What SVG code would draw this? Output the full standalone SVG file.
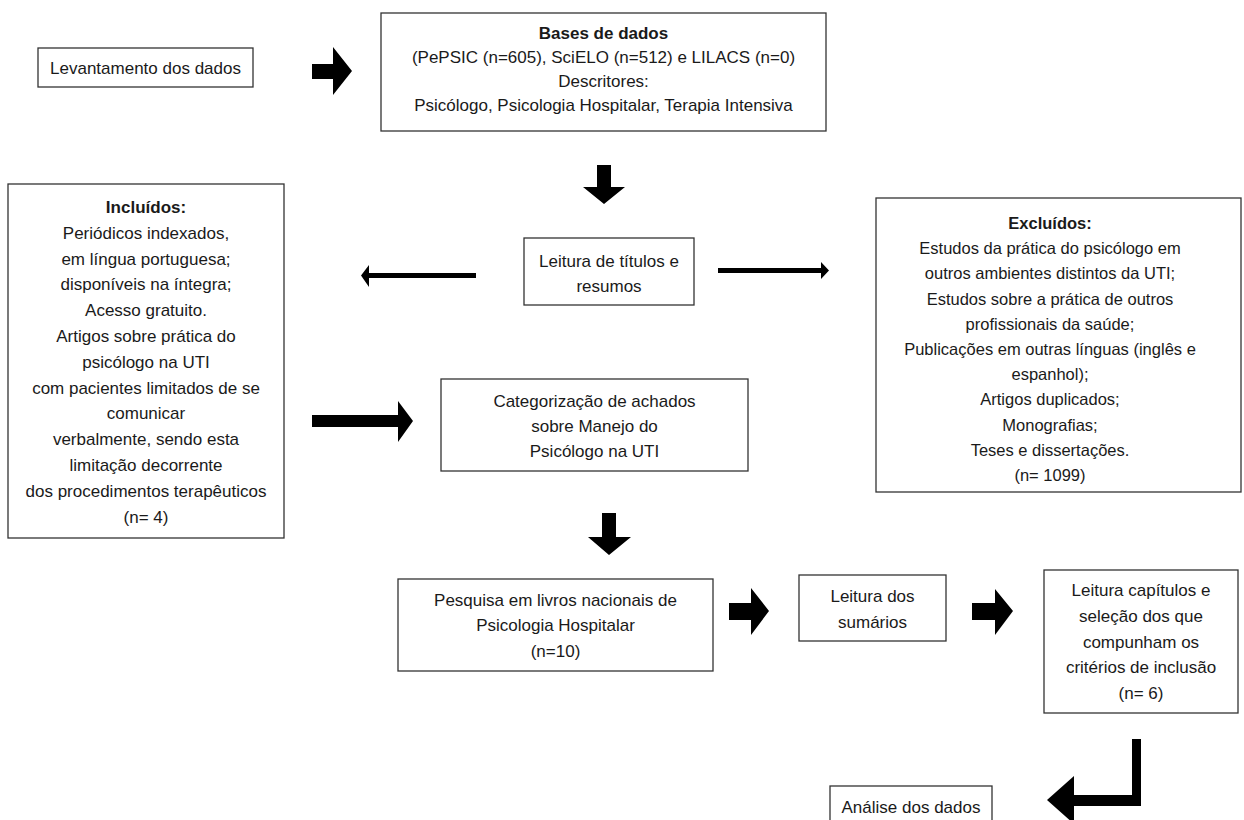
<svg xmlns="http://www.w3.org/2000/svg" width="1244" height="820" viewBox="0 0 1244 820">
<style>
.box{fill:#fff;stroke:#333;stroke-width:1.3}
text{font-family:"Liberation Sans",Arial,sans-serif;font-size:17px;fill:#1a1a1a;text-anchor:middle}
.b{font-weight:bold}
.s{font-size:16.5px}
.arr{fill:#000}
</style>
<rect width="1244" height="820" fill="#fff"/>
<g id="levantamento">
<rect class="box" x="38" y="48" width="215" height="39"/>
<text x="145.5" y="74">Levantamento dos dados</text>
</g>
<g id="bases">
<rect class="box" x="381" y="13" width="445" height="118"/>
<text class="b" x="603.5" y="39">Bases de dados</text>
<text x="603.5" y="63">(PePSIC (n=605), SciELO (n=512) e LILACS (n=0)</text>
<text x="603.5" y="87">Descritores:</text>
<text x="603.5" y="111">Psicólogo, Psicologia Hospitalar, Terapia Intensiva</text>
</g>
<g id="leitura-titulos">
<rect class="box" x="524" y="238" width="170" height="67"/>
<text x="609" y="267">Leitura de títulos e</text>
<text x="609" y="292">resumos</text>
</g>
<g id="incluidos">
<rect class="box" x="8" y="184" width="276" height="354"/>
<text x="146" y="213" class="b">Incluídos:</text>
<text x="146" y="238.8">Periódicos indexados,</text>
<text x="146" y="264.6">em língua portuguesa;</text>
<text x="146" y="290.4">disponíveis na íntegra;</text>
<text x="146" y="316.2">Acesso gratuito.</text>
<text x="146" y="342">Artigos sobre prática do</text>
<text x="146" y="367.8">psicólogo na UTI</text>
<text x="146" y="393.6">com pacientes limitados de se</text>
<text x="146" y="419.4">comunicar</text>
<text x="146" y="445.2">verbalmente, sendo esta</text>
<text x="146" y="471">limitação decorrente</text>
<text x="146" y="496.8">dos procedimentos terapêuticos</text>
<text x="146" y="522.6">(n= 4)</text>
</g>
<g id="excluidos">
<rect class="box" x="876" y="198" width="365" height="294"/>
<text class="s b" x="1050" y="229">Excluídos:</text>
<text class="s" x="1050" y="254.2">Estudos da prática do psicólogo em</text>
<text class="s" x="1050" y="279.4">outros ambientes distintos da UTI;</text>
<text class="s" x="1050" y="304.6">Estudos sobre a prática de outros</text>
<text class="s" x="1050" y="329.8">profissionais da saúde;</text>
<text class="s" x="1050" y="355">Publicações em outras línguas (inglês e</text>
<text class="s" x="1050" y="380.2">espanhol);</text>
<text class="s" x="1050" y="405.4">Artigos duplicados;</text>
<text class="s" x="1050" y="430.6">Monografias;</text>
<text class="s" x="1050" y="455.8">Teses e dissertações.</text>
<text class="s" x="1050" y="481">(n= 1099)</text>
</g>
<g id="categorizacao">
<rect class="box" x="441" y="379" width="307" height="92"/>
<text x="594.5" y="407">Categorização de achados</text>
<text x="594.5" y="432">sobre Manejo do</text>
<text x="594.5" y="457">Psicólogo na UTI</text>
</g>
<g id="pesquisa">
<rect class="box" x="398" y="579" width="315" height="92"/>
<text x="555.5" y="606">Pesquisa em livros nacionais de</text>
<text x="555.5" y="631">Psicologia Hospitalar</text>
<text x="555.5" y="657">(n=10)</text>
</g>
<g id="leitura-sumarios">
<rect class="box" x="799" y="575" width="147" height="66"/>
<text x="872.5" y="602">Leitura dos</text>
<text x="872.5" y="628">sumários</text>
</g>
<g id="leitura-capitulos">
<rect class="box" x="1044" y="570" width="194" height="143"/>
<text x="1141" y="596">Leitura capítulos e</text>
<text x="1141" y="622">seleção dos que</text>
<text x="1141" y="648">compunham os</text>
<text x="1141" y="673">critérios de inclusão</text>
<text x="1141" y="699">(n= 6)</text>
</g>
<g id="analise">
<rect class="box" x="830" y="786" width="162" height="40"/>
<text x="911" y="813">Análise dos dados</text>
</g>
<g id="connectors">
<polygon class="arr" points="312,64 333,64 333,47 352,71 333,95 333,79 312,79"/>
<polygon class="arr" points="597,165 611,165 611,187 625,187 604,204 583,187 597,187"/>
<polygon class="arr" points="476,273 369,273 369,265 361,275.5 369,287 369,278 476,278"/>
<polygon class="arr" points="718,268 821,268 821,262 829,270.5 821,279 821,273 718,273"/>
<polygon class="arr" points="312,415 398,415 398,401 413,421 398,442 398,427 312,427"/>
<polygon class="arr" points="602,513 616,513 616,537 631,537 609,555 588,537 602,537"/>
<polygon class="arr" points="729,603 751,603 751,588 769,611 751,635 751,620 729,620"/>
<polygon class="arr" points="972,603 995,603 995,589 1013,611 995,635 995,620 972,620"/>
<polygon class="arr" points="1132,739 1141,739 1141,806 1074,806 1074,824 1047,800 1074,776 1074,795 1132,795"/>
</g>
</svg>
